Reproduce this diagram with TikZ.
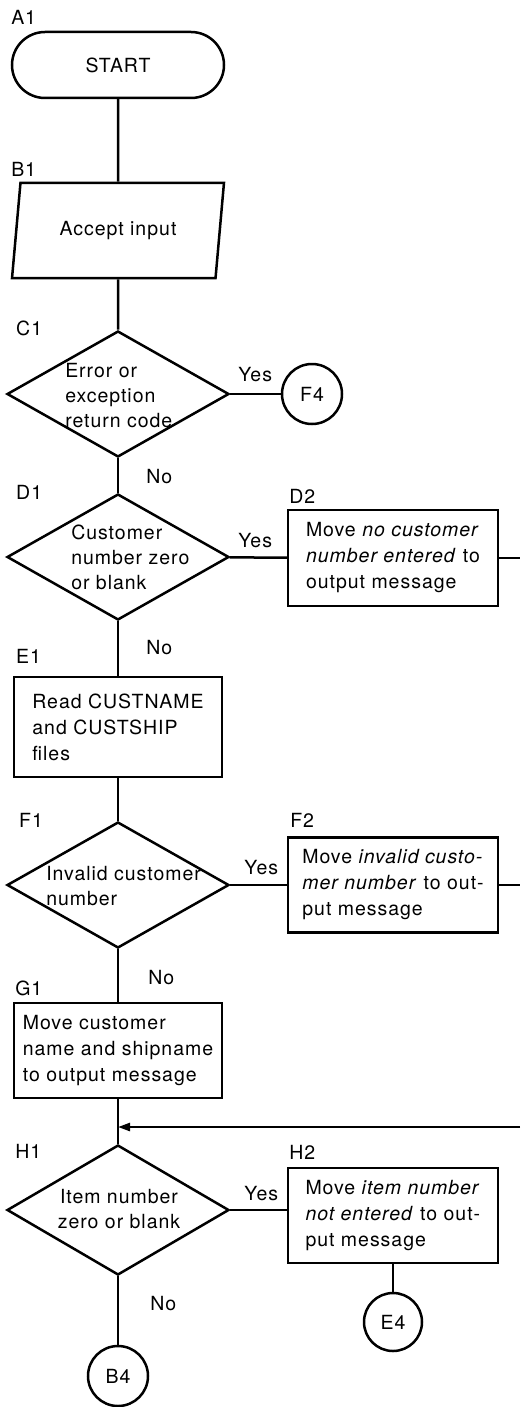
\documentclass[tikz,border=0pt]{standalone}
\usepackage{fontspec}
\setmainfont[LetterSpace=5]{TeX Gyre Heros}
\usetikzlibrary{shapes.geometric, arrows.meta}
\begin{document}
\begin{tikzpicture}[x=1pt, y=-1pt, line width=2.5pt,
  every node/.style={font=\fontsize{19.5}{25}\selectfont},
  term/.style={draw, rectangle, rounded corners=33pt, minimum width=212pt, minimum height=66pt, inner sep=0pt},
  io/.style={draw, trapezium, trapezium left angle=74.7, trapezium right angle=105.3, trapezium stretches=true, minimum width=212pt, minimum height=95pt, inner sep=0pt},
  dec/.style={draw, diamond, minimum width=222pt, minimum height=126pt, inner sep=0pt},
  proc/.style={draw, rectangle, minimum width=210pt, minimum height=96pt, align=left, inner sep=0pt, font=\fontsize{19.5}{26}\selectfont},
  conn/.style={draw, circle, minimum size=60pt, inner sep=0pt},
  dtxt/.style={inner sep=0pt, align=left, anchor=west},
  lbl/.style={inner sep=0pt, anchor=base west},
  tip/.style={-{Triangle[length=12pt,width=8pt]}},
]
\useasboundingbox (0,0) rectangle (520,1407);

% shapes
\node[term] (start) at (118,65) {START};
\node[io] (accept) at (118,230.5) {Accept input};
\node[dec] (c1) at (118,394) {};
\node[dtxt] (c1t) at (64,396) {Error or\\exception\\return code};
\node[conn] (f4) at (312,394) {F4};
\node[dec] (d1) at (118,557) {};
\node[dtxt] (d1t) at (70,557) {Customer\\number zero\\or blank};
\node[proc] (d2) at (393,558) {Move \textit{no customer}\\\textit{number entered} to\\output message};
\node[proc, minimum width=208pt, minimum height=100pt] (e1) at (118,727) {Read CUSTNAME\\and CUSTSHIP\\files};
\node[dec] (f1) at (118,885) {};
\node[dtxt] (f1t) at (45,886) {Invalid customer\\number};
\node[proc, minimum height=95pt] (f2) at (393,885) {Move \textit{invalid custo-}\\\textit{mer number} to out-\\put message};
\node[proc, minimum width=208pt, minimum height=95pt] (g1) at (118,1050.5) {Move customer\\name and shipname\\to output message};
\node[dec, minimum height=130pt] (h1) at (118,1210) {};
\node[inner sep=0pt, align=center] (h1t) at (119,1209) {Item number\\zero or blank};
\node[proc, minimum height=95pt] (h2) at (393,1215.5) {Move \textit{item number}\\\textit{not entered} to out-\\put message};
\node[conn, minimum size=58pt] (e4) at (393,1322) {E4};
\node[conn] (b4) at (118,1376) {B4};

% block labels
\node[lbl] (la1) at (10,25) {A1};
\node[lbl] (lb1) at (10,177) {B1};
\node[lbl] (lc1) at (15,335) {C1};
\node[lbl] (ld1) at (15,499) {D1};
\node[lbl] (ld2) at (288,503) {D2};
\node[lbl] (le1) at (15,663) {E1};
\node[lbl] (lf1) at (18,827) {F1};
\node[lbl] (lf2) at (289,827) {F2};
\node[lbl] (lg1) at (14,995) {G1};
\node[lbl] (lh1) at (14,1158) {H1};
\node[lbl] (lh2) at (288,1159) {H2};

% Yes / No
\node[lbl] (yc1) at (237,381) {Yes};
\node[lbl] (nc1) at (145,483) {No};
\node[lbl] (yd1) at (237,547) {Yes};
\node[lbl] (nd1) at (145,654) {No};
\node[lbl] (yf1) at (243,874) {Yes};
\node[lbl] (nf1) at (147,984) {No};
\node[lbl] (yh1) at (243,1200) {Yes};
\node[lbl] (nh1) at (149,1310) {No};

% off-page coordinates
\coordinate (d2out) at (520,558);
\coordinate (f2out) at (520,885);
\coordinate (hin) at (520,1127);
\coordinate (hj) at (118,1127);

% connectors
\draw (start) -- (accept);
\draw (accept) -- (c1);
\draw (c1) -- (f4);
\draw (c1) -- (d1);
\draw (d1) -- (d2);
\draw (d2) -- (d2out);
\draw (d1) -- (e1);
\draw (e1) -- (f1);
\draw (f1) -- (f2);
\draw (f2) -- (f2out);
\draw (f1) -- (g1);
\draw (g1) -- (h1);
\draw[tip] (hin) -- (hj);
\draw (h1.east) -- (h1.east -| h2.west);
\draw (h2) -- (e4);
\draw (h1) -- (b4);
\end{tikzpicture}
\end{document}
